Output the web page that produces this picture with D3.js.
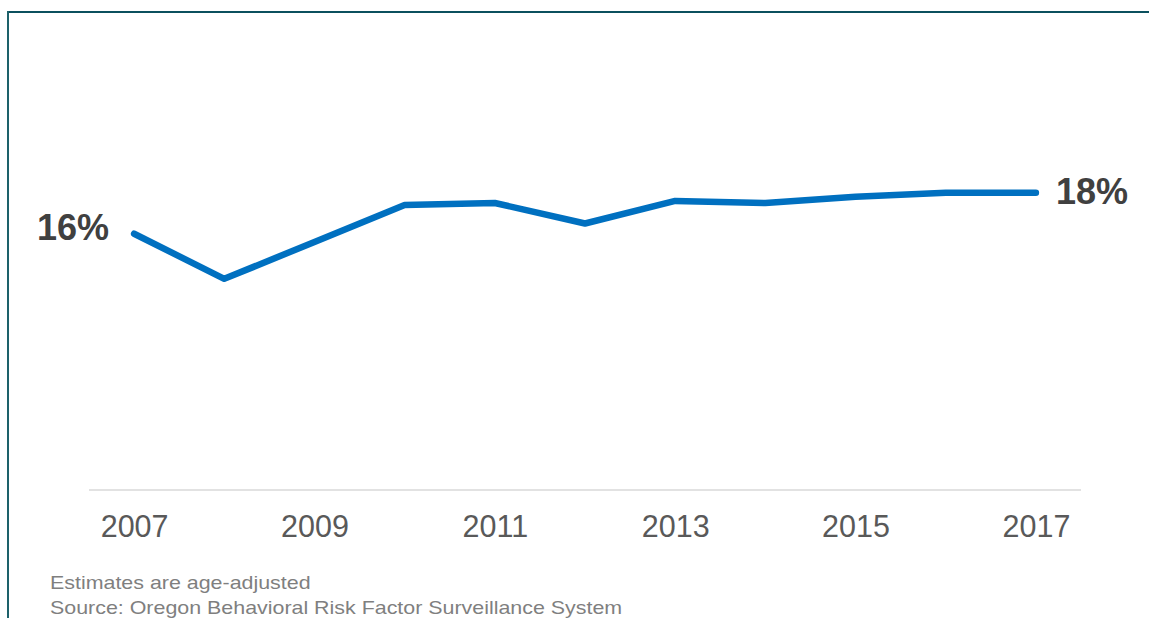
<!DOCTYPE html>
<html>
<head>
<meta charset="utf-8">
<script src="https://cdn.jsdelivr.net/npm/d3@7"></script>
<style>
  html, body { margin: 0; padding: 0; background: #fff; }
  svg { display: block; font-family: "Liberation Sans", Arial, sans-serif; }
</style>
</head>
<body>
<svg id="chart" width="1149" height="618"></svg>
<script>
// Annual estimates (%), Oregon adults, 2007–2017
const years = [2007, 2008, 2009, 2010, 2011, 2012, 2013, 2014, 2015, 2016, 2017];
const values = [16.0, 13.8, 15.6, 17.4, 17.5, 16.5, 17.6, 17.5, 17.8, 18.0, 18.0];
const tickYears = [2007, 2009, 2011, 2013, 2015, 2017];
const notes = [
  "Estimates are age-adjusted",
  "Source: Oregon Behavioral Risk Factor Surveillance System"
];

const svg = d3.select("#chart");
const W = 1149, H = 618;

// frame: top rule and left rule
svg.append("line")
  .attr("x1", 7).attr("x2", W).attr("y1", 12).attr("y2", 12)
  .attr("stroke", "#0b505e").attr("stroke-width", 2.2);
svg.append("line")
  .attr("x1", 8).attr("x2", 8).attr("y1", 11).attr("y2", H)
  .attr("stroke", "#1d616a").attr("stroke-width", 2);

// scales
const x = d3.scalePoint()
  .domain(years)
  .range([89, 1081])
  .padding(0.5);

const y = d3.scaleLinear()
  .domain([3.5, 23])
  .range([490, 490 - 19.5 * 20.5]);

// x axis baseline + year labels
const xAxis = d3.axisBottom(x)
  .tickValues(tickYears)
  .tickSize(0)
  .tickPadding(0);

const gx = svg.append("g")
  .attr("transform", "translate(0,490)")
  .call(xAxis);
gx.select(".domain")
  .attr("stroke", "#d9d9d9")
  .attr("stroke-width", 1.6)
  .attr("d", "M89,0H1081");
gx.selectAll(".tick text")
  .attr("y", 47)
  .attr("dy", null)
  .attr("fill", "#595959")
  .style("font-size", "30.5px")
  .style("font-family", "'Liberation Sans', Arial, sans-serif");

// data line
const data = years.map((yr, i) => ({ year: yr, value: values[i] }));
const line = d3.line()
  .x(d => x(d.year))
  .y(d => y(d.value));

svg.append("path")
  .datum(data)
  .attr("d", line)
  .attr("fill", "none")
  .attr("stroke", "#0070c0")
  .attr("stroke-width", 6.5)
  .attr("stroke-linecap", "round")
  .attr("stroke-linejoin", "round");

// end labels
const fmt = v => d3.format(".0f")(v) + "%";
const first = data[0], last = data[data.length - 1];

svg.append("text")
  .attr("x", x(first.year) - 25)
  .attr("y", y(first.value) + 6)
  .attr("text-anchor", "end")
  .attr("fill", "#404040")
  .style("font-size", "36px")
  .style("font-weight", "bold")
  .text(fmt(first.value));

svg.append("text")
  .attr("x", x(last.year) + 20)
  .attr("y", y(last.value) + 11)
  .attr("text-anchor", "start")
  .attr("fill", "#404040")
  .style("font-size", "36px")
  .style("font-weight", "bold")
  .text(fmt(last.value));

// footnotes
svg.selectAll("text.note")
  .data(notes)
  .enter().append("text")
  .attr("class", "note")
  .attr("transform", (d, i) => `translate(50,${589 + i * 24.5}) scale(1.145,1)`)
  .attr("fill", "#7f7f7f")
  .style("font-size", "18.7px")
  .text(d => d);
</script>
</body>
</html>
